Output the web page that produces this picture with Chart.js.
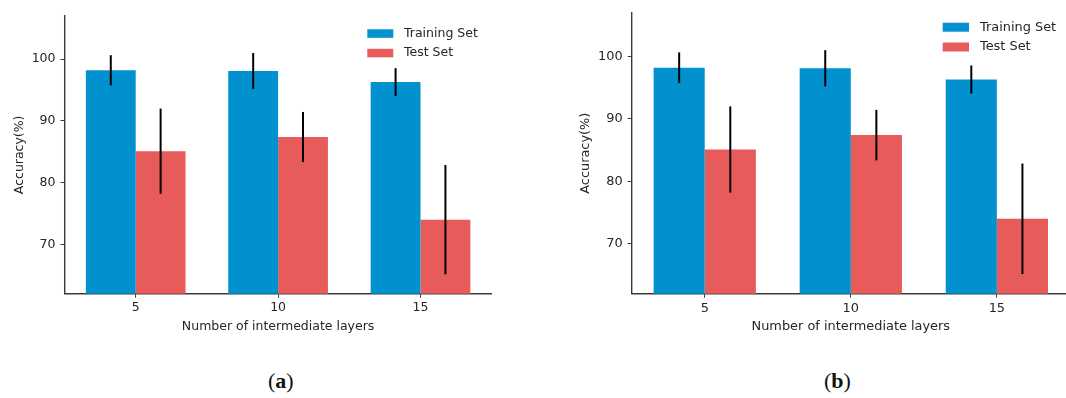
<!DOCTYPE html>
<html>
<head>
<meta charset="utf-8">
<script src="https://cdn.jsdelivr.net/npm/chart.js@4.4.1/dist/chart.umd.min.js"></script>
<style>
  html, body { margin: 0; padding: 0; background: #fff; overflow: hidden; width: 1066px; height: 398px; }
  canvas { position: absolute; top: 0; }
  #chartA { left: 0; }
  #chartB { left: 560px; }
  .cap { position: absolute; top: 368px; font-family: "Liberation Serif", "DejaVu Serif", serif; font-size: 22px; color: #111; }
  .cap b { font-weight: bold; }
</style>
</head>
<body>
<canvas id="chartA" width="500" height="340"></canvas>
<canvas id="chartB" width="520" height="340"></canvas>
<div class="cap" style="left:268px">(<b>a</b>)</div>
<div class="cap" style="left:824px">(<b>b</b>)</div>
<script>
// Number of intermediate layers on the x axis
const layerCounts = ['5', '10', '15'];
// Mean accuracy (%) and its spread for each set
const trainAcc = [98.2, 98.1, 96.3];
const trainErr = [2.45, 2.9, 2.25];
const testAcc = [85.1, 87.4, 74.0];
const testErr = [6.9, 4.05, 8.85];
// Labelled ticks on the accuracy axis
const accTicks = [70, 80, 90, 100];

const BLUE = '#0091ce';
const RED = '#e85b5b';
const INK = '#262626';
const AXIS = '#3a3a3a';

// Vertical error bars centred on each bar
const errorBars = {
  id: 'errorBars',
  afterDatasetsDraw(chart) {
    const { ctx, scales: { y } } = chart;
    ctx.save();
    ctx.strokeStyle = '#000';
    ctx.lineWidth = 2;
    chart.data.datasets.forEach((ds, i) => {
      const meta = chart.getDatasetMeta(i);
      meta.data.forEach((bar, j) => {
        const v = ds.data[j], e = ds.errors[j];
        ctx.beginPath();
        ctx.moveTo(bar.x, y.getPixelForValue(v + e));
        ctx.lineTo(bar.x, y.getPixelForValue(v - e));
        ctx.stroke();
      });
    });
    ctx.restore();
  }
};

// Frameless legend drawn inside the plot
const boxLegend = {
  id: 'boxLegend',
  afterDraw(chart, args, o) {
    const { ctx } = chart;
    ctx.save();
    ctx.font = o.fontSize + 'px "DejaVu Sans"';
    ctx.textBaseline = 'middle';
    ctx.textAlign = 'left';
    chart.data.datasets.forEach((ds, i) => {
      const top = o.y + i * o.row;
      ctx.fillStyle = ds.backgroundColor;
      ctx.fillRect(o.x, top, o.boxW, o.boxH);
      ctx.fillStyle = INK;
      ctx.fillText(ds.label, o.textX, top + o.boxH / 2);
    });
    ctx.restore();
  }
};

function makeChart(id, L) {
  const font = { family: '"DejaVu Sans"', size: L.fontSize };
  return new Chart(document.getElementById(id), {
    type: 'bar',
    data: {
      labels: layerCounts,
      datasets: [
        { label: 'Training Set', data: trainAcc, errors: trainErr, backgroundColor: BLUE },
        { label: 'Test Set', data: testAcc, errors: testErr, backgroundColor: RED }
      ]
    },
    options: {
      responsive: false,
      animation: false,
      events: [],
      categoryPercentage: 0.7,
      barPercentage: 1.0,
      layout: { padding: { left: 0, top: L.top, right: L.right, bottom: 0 } },
      plugins: {
        legend: { display: false },
        tooltip: { enabled: false },
        boxLegend: L.legend
      },
      scales: {
        x: {
          grid: { offset: false, drawOnChartArea: false, drawTicks: true, tickLength: 4, color: AXIS, lineWidth: 1 },
          border: { display: true, color: AXIS, width: 1.4 },
          ticks: { color: INK, font, padding: 3, maxRotation: 0 },
          title: { display: true, text: 'Number of intermediate layers', color: INK, font, padding: { top: 0, bottom: 6 } },
          afterFit(s) { s.height = L.xHeight; }
        },
        y: {
          min: 62,
          max: 107,
          grid: { drawOnChartArea: false, drawTicks: true, tickLength: 4, color: AXIS, lineWidth: 1 },
          border: { display: true, color: AXIS, width: 1.4 },
          ticks: { color: INK, font, padding: 5 },
          title: { display: true, text: 'Accuracy(%)', color: INK, font, padding: { top: L.yTitlePad, bottom: 0 } },
          afterBuildTicks(s) { s.ticks = accTicks.map(v => ({ value: v })); },
          afterFit(s) { s.width = L.yWidth; }
        }
      }
    },
    plugins: [errorBars, boxLegend]
  });
}

makeChart('chartA', {
  fontSize: 12.5, top: 16, right: 8.3, xHeight: 46.3, yWidth: 64.5, yTitlePad: 12,
  legend: { x: 367.3, y: 29.3, boxW: 26, boxH: 8.5, row: 19.5, textX: 404, fontSize: 12.5 }
});
makeChart('chartB', {
  fontSize: 12.9, top: 9.3, right: 10.1, xHeight: 46.3, yWidth: 71.7, yTitlePad: 17.5,
  legend: { x: 382.7, y: 22.7, boxW: 26.3, boxH: 9, row: 19.8, textX: 420, fontSize: 12.9 }
});
</script>
</body>
</html>
